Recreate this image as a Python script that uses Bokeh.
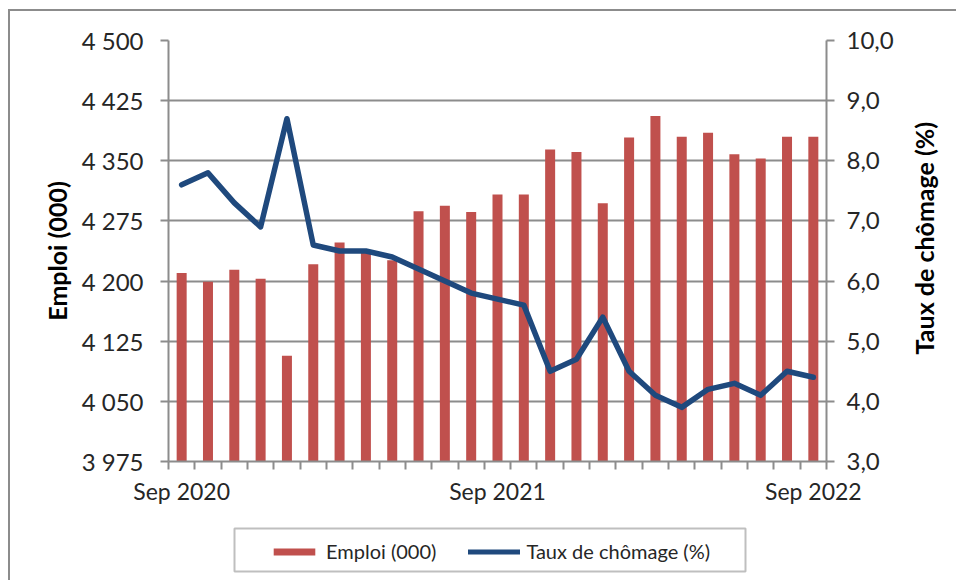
import math
from bokeh.plotting import figure
from bokeh.layouts import column, row
from bokeh.models import (Range1d, LinearAxis, FixedTicker, Legend, LegendItem,
                          ColumnDataSource)
from bokeh.core.properties import value
from bokeh.embed import file_html
from bokeh.resources import INLINE

months = ["Sep 2020", "Oct 2020", "Nov 2020", "Dec 2020", "Jan 2021", "Feb 2021",
          "Mar 2021", "Apr 2021", "May 2021", "Jun 2021", "Jul 2021", "Aug 2021",
          "Sep 2021", "Oct 2021", "Nov 2021", "Dec 2021", "Jan 2022", "Feb 2022",
          "Mar 2022", "Apr 2022", "May 2022", "Jun 2022", "Jul 2022", "Aug 2022",
          "Sep 2022"]
emploi = [4210, 4199, 4214, 4203, 4107, 4221, 4248, 4238, 4226, 4287, 4294, 4286,
          4308, 4308, 4364, 4361, 4297, 4379, 4406, 4380, 4385, 4358, 4353, 4380,
          4380]
chomage = [7.6, 7.8, 7.3, 6.9, 8.7, 6.6, 6.5, 6.5, 6.4, 6.2, 6.0, 5.8,
           5.7, 5.6, 4.5, 4.7, 5.4, 4.5, 4.1, 3.9, 4.2, 4.3, 4.1, 4.5, 4.4]
left_ticks = [3975, 4050, 4125, 4200, 4275, 4350, 4425, 4500]
right_ticks = [3, 4, 5, 6, 7, 8, 9, 10]
shown_labels = ["Sep 2020", "Sep 2021", "Sep 2022"]
left_title = "Emploi (000)"
right_title = "Taux de chômage (%)"
legend_labels = ["Emploi (000)", "Taux de chômage (%)"]

x = list(range(1, len(months) + 1))
src = ColumnDataSource(dict(x=x, emploi=emploi, chomage=chomage))

FONT = "Lato"
GRAY = "#8c8c8c"
TXT = "#262626"
BAR = "#C0504D"
LINE = "#1F497D"

# ---------------- main chart ----------------
p = figure(width=890, height=507, output_backend="svg", toolbar_location=None,
           x_range=Range1d(0.5, len(months) + 0.5),
           y_range=Range1d(left_ticks[0], left_ticks[-1]),
           min_border_left=158, min_border_right=74, min_border_top=29,
           min_border_bottom=57, outline_line_color=None)
p.extra_y_ranges = {"rate": Range1d(right_ticks[0], right_ticks[-1])}

bars = p.vbar(x="x", top="emploi", bottom=left_ticks[0], width=0.38, source=src,
              fill_color=BAR, line_color=None)
line = p.line(x="x", y="chomage", source=src, y_range_name="rate",
              line_color=LINE, line_width=5.5, line_join="round", line_cap="round")

xa = p.xaxis[0]
xa.ticker = FixedTicker(ticks=[months.index(m) + 1 for m in shown_labels],
                        minor_ticks=[i + 0.5 for i in range(0, len(months) + 1)])
xa.major_label_overrides = {months.index(m) + 1: m for m in shown_labels}
xa.major_tick_line_color = None
xa.major_tick_out = 8
xa.minor_tick_out = 8
xa.minor_tick_in = 0
xa.minor_tick_line_color = GRAY
xa.minor_tick_line_width = 2
xa.axis_line_color = GRAY
xa.axis_line_width = 2
xa.major_label_standoff = 7
xa.major_label_text_font = FONT
xa.major_label_text_font_size = "23px"
xa.major_label_text_color = TXT

ya = p.yaxis[0]
ya.ticker = FixedTicker(ticks=left_ticks)
ya.major_label_overrides = {v: f"{v:,}".replace(",", " ") for v in left_ticks}
ya.minor_tick_line_color = None
ya.major_tick_out = 8
ya.major_tick_in = 0
ya.major_tick_line_color = GRAY
ya.major_tick_line_width = 2
ya.axis_line_color = GRAY
ya.axis_line_width = 2
ya.major_label_standoff = 17
ya.major_label_text_font = FONT
ya.major_label_text_font_size = "24px"
ya.major_label_text_color = TXT
ya.axis_label = left_title
ya.axis_label_text_font = FONT
ya.axis_label_text_font_style = "bold"
ya.axis_label_text_font_size = "25px"
ya.axis_label_text_color = "#000000"
ya.axis_label_standoff = 7

ra = LinearAxis(y_range_name="rate", ticker=FixedTicker(ticks=right_ticks))
ra.major_label_overrides = {v: f"{v:.1f}".replace(".", ",") for v in right_ticks}
ra.minor_tick_line_color = None
ra.major_tick_out = 8
ra.major_tick_in = 0
ra.major_tick_line_color = GRAY
ra.major_tick_line_width = 2
ra.axis_line_color = GRAY
ra.axis_line_width = 2
ra.major_label_standoff = 12
ra.major_label_text_font = FONT
ra.major_label_text_font_size = "24px"
ra.major_label_text_color = TXT
p.add_layout(ra, "right")

p.xgrid.grid_line_color = None
p.ygrid.ticker = FixedTicker(ticks=left_ticks)
p.ygrid.grid_line_color = GRAY
p.ygrid.grid_line_width = 2

# ---------------- right axis title (reads bottom to top) ----------------
side = figure(width=56, height=507, output_backend="svg", toolbar_location=None,
              x_range=Range1d(0, 56), y_range=Range1d(0, 507),
              x_axis_type=None, y_axis_type=None, min_border=0,
              outline_line_color=None)
side.text(x=[23], y=[269], text=[right_title], angle=math.pi / 2,
          text_align="center", text_baseline="middle",
          text_font=value(FONT), text_font_style="bold",
          text_font_size="25px", text_color="#000000")

# ---------------- legend ----------------
leg = figure(width=946, height=62, output_backend="svg", toolbar_location=None,
             x_range=Range1d(0, 946), y_range=Range1d(0, 62),
             x_axis_type=None, y_axis_type=None, min_border=0,
             outline_line_color=None)
# legend frame
leg.quad(left=[224], right=[735], bottom=[9], top=[52], fill_color=None,
         line_color="#bfbfbf", line_width=2)
# same series drawn out of view, only to give the legend its glyphs
lbar = leg.vbar(x="x", top="emploi", bottom=0, width=0.38, source=src,
                fill_color=BAR, line_color=None, x_range_name="off")
lline = leg.line(x="x", y="chomage", source=src, line_color=LINE, line_width=5,
                 line_cap="round", x_range_name="off")
leg.extra_x_ranges = {"off": Range1d(-20, -10)}
legend = Legend(items=[LegendItem(label=legend_labels[0], renderers=[lbar]),
                       LegendItem(label=legend_labels[1], renderers=[lline])],
                location=(258, 17), orientation="horizontal",
                border_line_color=None, background_fill_alpha=0,
                padding=4, margin=0, spacing=32, label_standoff=6,
                glyph_width=52, glyph_height=9, label_height=20,
                label_text_font=FONT, label_text_font_size="20px",
                label_text_color=TXT)
leg.add_layout(legend, "center")

layout = column(row(p, side), leg,
                styles={"border-left": "2px solid #8c8c8c",
                        "border-top": "2px solid #8c8c8c",
                        "margin-left": "8px", "margin-top": "9px"})

open("out.html", "w").write(file_html(layout, INLINE))
